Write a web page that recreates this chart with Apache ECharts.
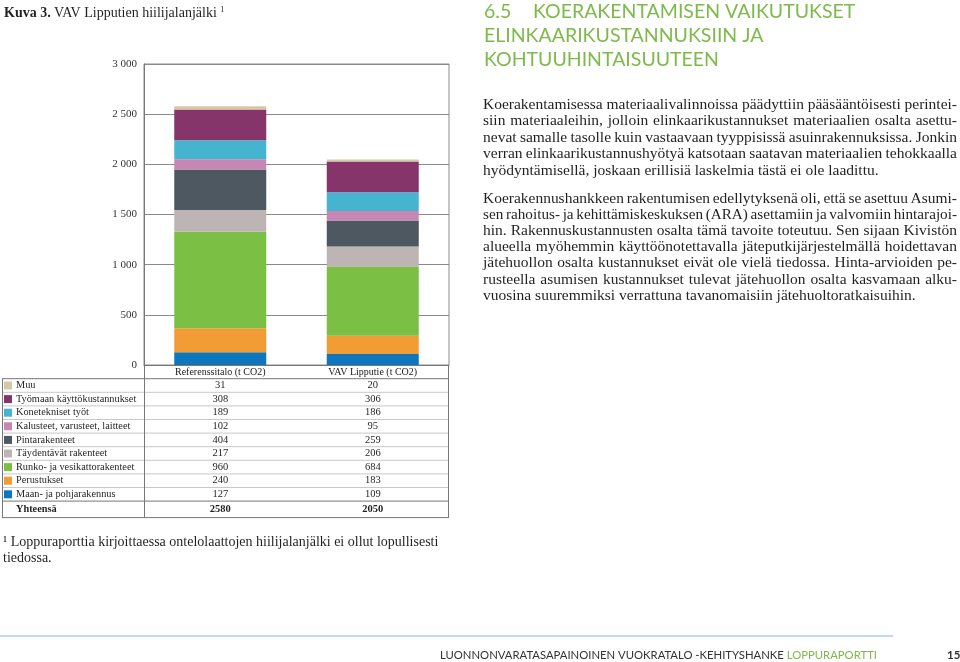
<!DOCTYPE html>
<html><head><meta charset="utf-8">
<script src="https://cdn.jsdelivr.net/npm/echarts@6/dist/echarts.min.js"></script>
<style>html,body{margin:0;padding:0;background:#fff}#c{width:960px;height:662px}</style>
</head><body><div id="c"></div>
<script>
// ---------- data ----------
const categories = ['Referenssitalo (t CO2)', 'VAV Lipputie (t CO2)'];
const componentNames = ['Muu', 'Työmaan käyttökustannukset', 'Konetekniset työt', 'Kalusteet, varusteet, laitteet',
  'Pintarakenteet', 'Täydentävät rakenteet', 'Runko- ja vesikattorakenteet', 'Perustukset', 'Maan- ja pohjarakennus'];
const referenssitalo = [31, 308, 189, 102, 404, 217, 960, 240, 127];
const vavLipputie = [20, 306, 186, 95, 259, 206, 684, 183, 109];
const totalLabel = 'Yhteensä';
const totals = [2580, 2050];
const yMin = 0, yMax = 3000, yStep = 500;

// ---------- styles ----------
const colors = ['#d5c8a6', '#853569', '#46b4d0', '#c886b3', '#4e5860', '#bcb5b3', '#7bbf44', '#f19c35', '#0e76bc'];
const serif = '"Liberation Serif", "DejaVu Serif", serif';
const sans = 'Lato, "Open Sans", sans-serif';
const green = '#7dba4b';

const heading = ['6.5', 'KOERAKENTAMISEN VAIKUTUKSET', 'ELINKAARIKUSTANNUKSIIN JA', 'KOHTUUHINTAISUUTEEN'];
const para1 = [
  'Koerakentamisessa materiaalivalinnoissa päädyttiin pääsääntöisesti perintei-',
  'siin materiaaleihin, jolloin elinkaarikustannukset materiaalien osalta asettu-',
  'nevat samalle tasolle kuin vastaavaan tyyppisissä asuinrakennuksissa. Jonkin',
  'verran elinkaarikustannushyötyä katsotaan saatavan materiaalien tehokkaalla',
  'hyödyntämisellä, joskaan erillisiä laskelmia tästä ei ole laadittu.'
];
const para2 = [
  'Koerakennushankkeen rakentumisen edellytyksenä oli, että se asettuu Asumi-',
  'sen rahoitus- ja kehittämiskeskuksen (ARA) asettamiin ja valvomiin hintarajoi-',
  'hin. Rakennuskustannusten osalta tämä tavoite toteutuu. Sen sijaan Kivistön',
  'alueella myöhemmin käyttöönotettavalla jäteputkijärjestelmällä hoidettavan',
  'jätehuollon osalta kustannukset eivät ole vielä tiedossa. Hinta-arvioiden pe-',
  'rusteella asumisen kustannukset tulevat jätehuollon osalta kasvamaan alku-',
  'vuosina suuremmiksi verrattuna tavanomaisiin jätehuoltoratkaisuihin.'
];
const footnote = ['¹ Loppuraporttia kirjoittaessa ontelolaattojen hiilijalanjälki ei ollut lopullisesti', 'tiedossa.'];
const footer = ['LUONNONVARATASAPAINOINEN VUOKRATALO -KEHITYSHANKE ', 'LOPPURAPORTTI', '15'];

const chart = echarts.init(document.getElementById('c'), null, {renderer: 'canvas'});

const series = [];
for (let i = componentNames.length - 1; i >= 0; i--) {
  series.push({
    name: componentNames[i], type: 'bar', stack: 'total', barWidth: 92,
    data: [referenssitalo[i], vavLipputie[i]],
    itemStyle: {color: colors[i]}, emphasis: {disabled: true}, z: 3
  });
}

chart.setOption({
  animation: false,
  backgroundColor: '#fff',
  grid: {left: 144, right: 511, top: 64, bottom: 297, show: true, borderColor: '#8a8a8a', borderWidth: 1},
  xAxis: {
    type: 'category', data: categories,
    axisLine: {show: true, lineStyle: {color: '#777', width: 1}},
    axisTick: {show: false},
    axisLabel: {fontFamily: serif, fontSize: 10, color: '#222', margin: 2.5, verticalAlign: 'top'}
  },
  yAxis: {
    type: 'value', min: yMin, max: yMax, interval: yStep,
    axisLine: {show: true, lineStyle: {color: '#777'}},
    axisTick: {show: false},
    splitLine: {lineStyle: {color: '#8a8a8a', width: 1}},
    axisLabel: {fontFamily: serif, fontSize: 11, color: '#333', margin: 7,
      formatter: v => String(v).replace(/\B(?=(\d{3})+$)/g, ' ')}
  },
  series: series
});

(function () {
// ---------- text helpers ----------
const mctx = document.createElement('canvas').getContext('2d');
function tw(t, font) { mctx.font = font; return mctx.measureText(t).width; }

const g = [];
function text(x, y, t, size, opts) {
  opts = opts || {};
  g.push({type: 'text', x: x, y: y, silent: true, z: 10,
    style: Object.assign({text: t, fontFamily: serif, fontSize: size, fill: '#222',
      textAlign: 'left', textVerticalAlign: 'middle'}, opts)});
}
function line(x1, y1, x2, y2, color, w) {
  g.push({type: 'line', silent: true, z: 9, shape: {x1, y1, x2, y2}, style: {stroke: color, lineWidth: w || 1}});
}
function justified(lines, x0, width, y0, step, size) {
  const font = size + 'px ' + serif;
  const space = tw(' ', font);
  lines.forEach((ln, li) => {
    const y = y0 + li * step;
    const natural = tw(ln, font);
    if (li === lines.length - 1) {
      const sc = natural > width ? width / natural : 1;
      g.push({type: 'text', x: x0, y: y, scaleX: sc, silent: true, z: 10,
        style: {text: ln, fontFamily: serif, fontSize: size, fill: '#231f20', textVerticalAlign: 'middle'}});
      return;
    }
    const words = ln.split(' ');
    const ws = words.map(w => tw(w, font));
    const sum = ws.reduce((a, b) => a + b, 0);
    let gap = (width - sum) / (words.length - 1);
    let sc = 1;
    if (gap < space * 0.7) { gap = space * 0.7; sc = width / (sum + gap * (words.length - 1)); }
    let x = x0;
    words.forEach((w, wi) => {
      g.push({type: 'text', x: x, y: y, scaleX: sc, silent: true, z: 10,
        style: {text: w, fontFamily: serif, fontSize: size, fill: '#231f20', textVerticalAlign: 'middle'}});
      x += (ws[wi] + gap) * sc;
    });
  });
}

// title
g.push({type: 'text', x: 4, y: 13, silent: true, style: {
  text: '{b|Kuva 3.} {n|VAV Lipputien hiilijalanjälki} {s|1}', textVerticalAlign: 'middle',
  rich: {b: {fontFamily: serif, fontSize: 14, fontWeight: 'bold', fill: '#231f20'},
         n: {fontFamily: serif, fontSize: 14, fill: '#231f20'},
         s: {fontFamily: serif, fontSize: 8, fill: '#231f20', verticalAlign: 'top', padding: [0, 0, 6, 0]}}}});

// heading
const hs = 19.5;
text(484, 12, heading[0], hs, {fontFamily: sans, fill: green});
text(533, 12, heading[1], hs, {fontFamily: sans, fill: green});
text(484, 36, heading[2], hs, {fontFamily: sans, fill: green});
text(484, 60, heading[3], hs, {fontFamily: sans, fill: green});

// paragraphs
justified(para1, 483, 474, 105, 16.4, 15.5);
justified(para2, 483, 474, 198.5, 16.2, 15.5);

// footnote
text(3, 542, footnote[0], 14, {fill: '#231f20'});
text(3, 558, footnote[1], 14, {fill: '#231f20'});

// footer
line(0, 636, 893, 636, '#a5d2da', 1.5);
g.push({type: 'text', x: 440, y: 655, silent: true, style: {
  text: '{a|' + footer[0] + '}{b|' + footer[1] + '}', textVerticalAlign: 'middle',
  rich: {a: {fontFamily: sans, fontSize: 11.3, fill: '#333'}, b: {fontFamily: sans, fontSize: 11.3, fill: green}}}});
text(947, 655, footer[2], 11.5, {fontFamily: sans, fontWeight: 'bold', fill: '#333'});

// ---------- data table ----------
const xL = chart.convertToPixel({xAxisIndex: 0}, categories[0]);
const xR = chart.convertToPixel({xAxisIndex: 0}, categories[1]);
const gridRect = chart.getModel().getComponent('grid').coordinateSystem.getRect();
const tLeft = 2, colX = gridRect.x, tRight = gridRect.x + gridRect.width;
const tTop = gridRect.y + gridRect.height;
const rowH = 13.6, firstRow = 385.5;
const headerBottom = firstRow - rowH / 2;
const lf = 10.3, nf = 10.5;
componentNames.forEach((name, i) => {
  const y = firstRow + i * rowH;
  g.push({type: 'rect', silent: true, z: 10, shape: {x: 4, y: y - 4, width: 8, height: 8}, style: {fill: colors[i]}});
  text(16, y, name, lf, {fill: '#231f20'});
  text(xL, y, String(referenssitalo[i]), nf, {textAlign: 'center', fill: '#231f20'});
  text(xR, y, String(vavLipputie[i]), nf, {textAlign: 'center', fill: '#231f20'});
  if (i > 0) line(tLeft, y - rowH / 2, tRight, y - rowH / 2, '#c8c8c8', 1);
});
const totY = firstRow + componentNames.length * rowH + 1.5;
const totTop = firstRow + (componentNames.length - 0.5) * rowH;
const tBottom = totTop + 16.5;
text(16, totY, totalLabel, lf, {fontWeight: 'bold', fill: '#231f20'});
text(xL, totY, String(totals[0]), nf, {textAlign: 'center', fontWeight: 'bold', fill: '#231f20'});
text(xR, totY, String(totals[1]), nf, {textAlign: 'center', fontWeight: 'bold', fill: '#231f20'});
line(tLeft, headerBottom, tRight, headerBottom, '#777', 1);
line(tLeft, totTop, tRight, totTop, '#777', 1);
line(tLeft, tBottom, tRight, tBottom, '#777', 1);
line(tLeft + 0.5, headerBottom, tLeft + 0.5, tBottom, '#777', 1);
line(colX + 0.5, tTop, colX + 0.5, tBottom, '#777', 1);
line(tRight - 0.5, tTop, tRight - 0.5, tBottom, '#777', 1);

chart.setOption({graphic: {elements: g}});
})();
</script></body></html>
